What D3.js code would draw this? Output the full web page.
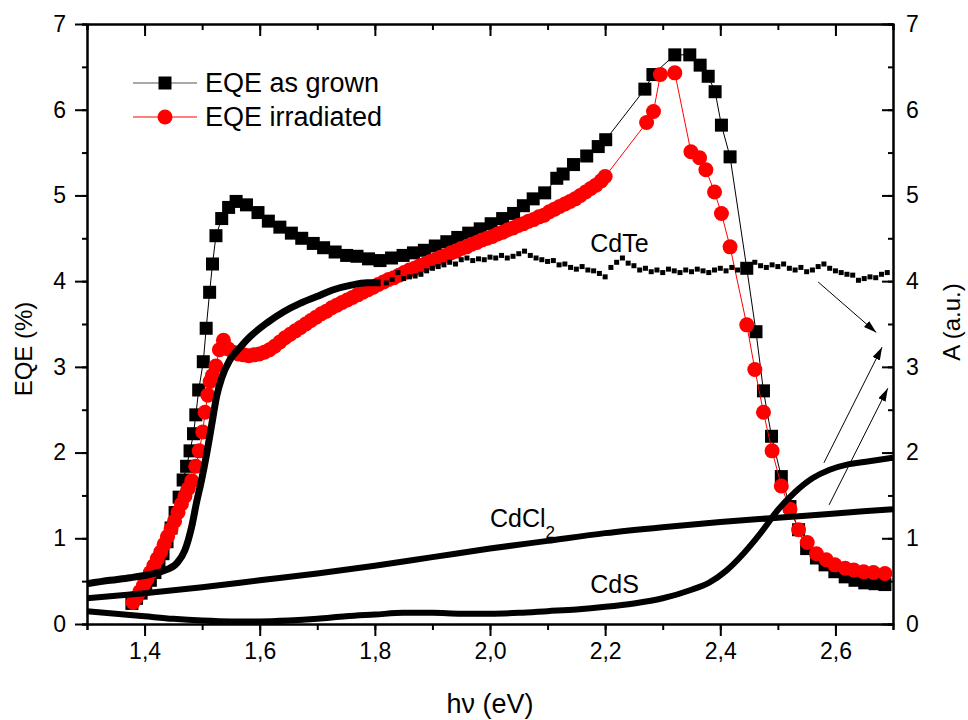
<!DOCTYPE html>
<html>
<head>
<meta charset="utf-8">
<script src="https://cdn.jsdelivr.net/npm/d3@7"></script>
<style>
    body { margin: 0; background: #fff; }
    svg text { font-family: Arial, "Liberation Sans", sans-serif; fill: #000; }
</style>
</head>
<body>
<svg id="chart"></svg>
<script>
// ---------------- data ----------------
// [photon energy eV, EQE %]
const eqeAsGrown = [
    [1.378, 0.24], [1.386, 0.30], [1.394, 0.36], [1.402, 0.43], [1.410, 0.51], [1.418, 0.60],
    [1.425, 0.70], [1.432, 0.82], [1.439, 0.96], [1.446, 1.12], [1.453, 1.30], [1.460, 1.48],
    [1.467, 1.68], [1.473, 1.84], [1.479, 2.02], [1.485, 2.22], [1.489, 2.44], [1.494, 2.73],
    [1.502, 3.06], [1.507, 3.45], [1.513, 3.87], [1.518, 4.20], [1.524, 4.53], [1.534, 4.73],
    [1.546, 4.86], [1.559, 4.93], [1.577, 4.89], [1.597, 4.80], [1.615, 4.70], [1.635, 4.63],
    [1.655, 4.56], [1.673, 4.50], [1.693, 4.44], [1.711, 4.39], [1.731, 4.34], [1.751, 4.30],
    [1.769, 4.29], [1.789, 4.26], [1.809, 4.24], [1.829, 4.27], [1.849, 4.30], [1.867, 4.33],
    [1.886, 4.36], [1.905, 4.41], [1.925, 4.46], [1.944, 4.51], [1.963, 4.56], [1.983, 4.61],
    [2.002, 4.67], [2.022, 4.73], [2.041, 4.79], [2.058, 4.88], [2.075, 4.96], [2.095, 5.03],
    [2.116, 5.20], [2.127, 5.25], [2.145, 5.36], [2.168, 5.46], [2.188, 5.57], [2.201, 5.65],
    [2.269, 6.24], [2.283, 6.41], [2.321, 6.64], [2.347, 6.64], [2.365, 6.52], [2.379, 6.39],
    [2.391, 6.21], [2.402, 5.82], [2.417, 5.45], [2.446, 4.15], [2.462, 3.41], [2.475, 2.72],
    [2.489, 2.19], [2.506, 1.72], [2.521, 1.37], [2.536, 1.10], [2.550, 0.88], [2.567, 0.77],
    [2.582, 0.69], [2.599, 0.61], [2.617, 0.55], [2.634, 0.51], [2.651, 0.48], [2.669, 0.47],
    [2.686, 0.46]
];

const eqeIrradiated = [
    [1.380, 0.25], [1.386, 0.31], [1.392, 0.38], [1.398, 0.45], [1.404, 0.52], [1.410, 0.60],
    [1.416, 0.68], [1.422, 0.76], [1.428, 0.84], [1.434, 0.93], [1.440, 1.02], [1.446, 1.11],
    [1.452, 1.20], [1.458, 1.30], [1.464, 1.40], [1.470, 1.49], [1.476, 1.58], [1.482, 1.67],
    [1.489, 1.84], [1.495, 2.02], [1.501, 2.24], [1.505, 2.47], [1.510, 2.67], [1.514, 2.83],
    [1.518, 2.90], [1.524, 3.01], [1.530, 3.20], [1.537, 3.31], [1.545, 3.21], [1.554, 3.17],
    [1.563, 3.15], [1.572, 3.14], [1.581, 3.13], [1.590, 3.14], [1.599, 3.15], [1.608, 3.17],
    [1.617, 3.20], [1.626, 3.24], [1.635, 3.29], [1.644, 3.34], [1.653, 3.38], [1.662, 3.42],
    [1.671, 3.46], [1.680, 3.50], [1.689, 3.54], [1.698, 3.58], [1.707, 3.62], [1.716, 3.65],
    [1.725, 3.69], [1.734, 3.72], [1.743, 3.75], [1.752, 3.78], [1.761, 3.81], [1.770, 3.84],
    [1.779, 3.87], [1.788, 3.90], [1.797, 3.93], [1.806, 3.96], [1.815, 3.99], [1.824, 4.02],
    [1.833, 4.04], [1.842, 4.07], [1.851, 4.10], [1.860, 4.13], [1.869, 4.15], [1.878, 4.18],
    [1.887, 4.20], [1.896, 4.23], [1.905, 4.25], [1.914, 4.28], [1.923, 4.30], [1.932, 4.33],
    [1.941, 4.35], [1.950, 4.38], [1.959, 4.40], [1.968, 4.43], [1.977, 4.45], [1.986, 4.48],
    [1.995, 4.50], [2.004, 4.52], [2.013, 4.55], [2.022, 4.57], [2.031, 4.60], [2.040, 4.62],
    [2.049, 4.65], [2.058, 4.67], [2.067, 4.70], [2.076, 4.72], [2.085, 4.75], [2.094, 4.77],
    [2.103, 4.81], [2.112, 4.84], [2.121, 4.87], [2.130, 4.90], [2.139, 4.93], [2.148, 4.96],
    [2.157, 5.00], [2.166, 5.04], [2.175, 5.08], [2.184, 5.12], [2.193, 5.17], [2.200, 5.22],
    [2.272, 5.85], [2.284, 5.98], [2.296, 6.41], [2.321, 6.43], [2.349, 5.51], [2.364, 5.44],
    [2.375, 5.30], [2.390, 5.04], [2.402, 4.79], [2.417, 4.40], [2.446, 3.49], [2.460, 2.97],
    [2.475, 2.47], [2.490, 2.02], [2.506, 1.61], [2.521, 1.34], [2.536, 1.10], [2.551, 0.95],
    [2.567, 0.82], [2.584, 0.75], [2.599, 0.69], [2.617, 0.65], [2.632, 0.63], [2.649, 0.61],
    [2.666, 0.60], [2.686, 0.59]
];

// [photon energy eV, absorbance a.u.]
const cdteEdge = [
    [1.300, 0.47], [1.340, 0.51], [1.375, 0.54], [1.410, 0.58], [1.433, 0.62], [1.456, 0.71],
    [1.470, 0.86], [1.482, 1.14], [1.490, 1.41], [1.499, 1.68], [1.508, 1.99], [1.517, 2.34],
    [1.525, 2.65], [1.534, 2.87], [1.548, 3.08], [1.565, 3.22], [1.583, 3.35], [1.612, 3.51],
    [1.641, 3.64], [1.670, 3.74], [1.699, 3.82], [1.728, 3.90], [1.757, 3.95], [1.786, 3.98],
    [1.810, 3.98]
];

const cdtePlateau = [
    [1.82, 3.98], [1.83, 4.02], [1.84, 4.10], [1.85, 4.03], [1.86, 4.05], [1.87, 4.06],
    [1.88, 4.08], [1.89, 4.12], [1.90, 4.15], [1.91, 4.17], [1.92, 4.19], [1.93, 4.22],
    [1.94, 4.20], [1.95, 4.25], [1.96, 4.27], [1.97, 4.24], [1.98, 4.26], [1.99, 4.25],
    [2.00, 4.28], [2.01, 4.27], [2.02, 4.30], [2.03, 4.27], [2.04, 4.29], [2.05, 4.32],
    [2.06, 4.35], [2.07, 4.30], [2.08, 4.27], [2.09, 4.25], [2.10, 4.23], [2.11, 4.24],
    [2.12, 4.19], [2.13, 4.20], [2.14, 4.16], [2.15, 4.14], [2.16, 4.17], [2.17, 4.13],
    [2.18, 4.12], [2.19, 4.09], [2.20, 4.05], [2.21, 4.16], [2.22, 4.22], [2.23, 4.27],
    [2.24, 4.21], [2.25, 4.18], [2.26, 4.13], [2.27, 4.15], [2.28, 4.11], [2.29, 4.13],
    [2.30, 4.10], [2.31, 4.14], [2.32, 4.12], [2.33, 4.10], [2.34, 4.13], [2.35, 4.11],
    [2.36, 4.14], [2.37, 4.12], [2.38, 4.10], [2.39, 4.13], [2.40, 4.15], [2.41, 4.12],
    [2.42, 4.16], [2.43, 4.13], [2.44, 4.17], [2.45, 4.19], [2.46, 4.22], [2.47, 4.18],
    [2.48, 4.16], [2.49, 4.19], [2.50, 4.17], [2.51, 4.20], [2.52, 4.15], [2.53, 4.13],
    [2.54, 4.16], [2.55, 4.11], [2.56, 4.13], [2.57, 4.17], [2.58, 4.20], [2.59, 4.15],
    [2.60, 4.12], [2.61, 4.10], [2.62, 4.08], [2.63, 4.07], [2.64, 4.01], [2.65, 4.03],
    [2.66, 4.05], [2.67, 4.04], [2.68, 4.08], [2.69, 4.10]
];

const cdcl2 = [
    [1.30, 0.30], [1.40, 0.36], [1.50, 0.43], [1.60, 0.51], [1.70, 0.59], [1.80, 0.68],
    [1.90, 0.78], [2.00, 0.88], [2.10, 0.97], [2.20, 1.06], [2.30, 1.13], [2.40, 1.19],
    [2.50, 1.24], [2.60, 1.29], [2.70, 1.34]
];

const cds = [
    [1.30, 0.15], [1.35, 0.12], [1.40, 0.09], [1.45, 0.06], [1.50, 0.04], [1.55, 0.03],
    [1.60, 0.03], [1.65, 0.04], [1.70, 0.06], [1.75, 0.09], [1.80, 0.11], [1.85, 0.13],
    [1.90, 0.13], [1.95, 0.12], [2.00, 0.12], [2.05, 0.13], [2.10, 0.15], [2.15, 0.17],
    [2.20, 0.20], [2.25, 0.24], [2.30, 0.30], [2.35, 0.40], [2.38, 0.48], [2.41, 0.62],
    [2.44, 0.82], [2.47, 1.06], [2.50, 1.33], [2.53, 1.54], [2.56, 1.70], [2.59, 1.80],
    [2.62, 1.86], [2.65, 1.89], [2.70, 1.94]
];

const xTicks = [1.4, 1.6, 1.8, 2.0, 2.2, 2.4, 2.6];
const yTicks = [0, 1, 2, 3, 4, 5, 6, 7];
const legendNames = ["EQE as grown", "EQE irradiated"];

// curve labels and arrows, in data units of the right (A) axis
const curveLabels = [
    { text: "CdTe", sub: "", x: 2.174, y: 4.34 },
    { text: "CdCl", sub: "2", x: 2.0, y: 1.13 },
    { text: "CdS", sub: "", x: 2.174, y: 0.36 }
];
const arrows = [
    [[2.570, 3.99], [2.671, 3.40]],
    [[2.580, 1.88], [2.681, 3.23]],
    [[2.589, 1.39], [2.691, 2.75]]
];

class SpectraChart {
    margin = {
        top: 24, right: 75, bottom: 96, left: 87
    }

    constructor(svg, width = 806, height = 600) {
        this.svg = svg;
        this.width = width;
        this.height = height;
    }

    initialize() {
        this.svg = d3.select(this.svg)
            .attr("width", this.width + this.margin.left + this.margin.right)
            .attr("height", this.height + this.margin.top + this.margin.bottom);

        this.xScale = d3.scaleLinear().domain([1.3, 2.7]).range([0, this.width]);
        this.yScale = d3.scaleLinear().domain([0, 7]).range([this.height, 0]);
        this.aScale = d3.scaleLinear().domain([0, 7]).range([this.height, 0]);

        let defs = this.svg.append("defs");
        defs.append("marker")
            .attr("id", "arrowhead")
            .attr("viewBox", "0 0 13 8")
            .attr("refX", 13).attr("refY", 4)
            .attr("markerUnits", "userSpaceOnUse")
            .attr("markerWidth", 13).attr("markerHeight", 8)
            .attr("orient", "auto")
            .append("path")
            .attr("d", "M0,0L13,4L0,8z")
            .attr("fill", "#000");

        this.container = this.svg.append("g")
            .attr("transform", `translate(${this.margin.left}, ${this.margin.top})`);
    }

    styleAxis(g) {
        g.selectAll("path, line").attr("stroke", "#000").attr("stroke-width", 2);
        g.selectAll("text").style("font-size", "23px").attr("fill", "#000");
    }

    drawAxes() {
        let c = this.container;
        let fmt = d => d3.format(".1f")(d).replace(".", ",");

        // minor ticks first, majors drawn over them
        c.append("g").attr("transform", `translate(0, ${this.height})`)
            .call(d3.axisBottom(this.xScale).tickValues(this.xScale.ticks(14)).tickSize(6).tickFormat(""))
            .call(g => this.styleAxis(g));
        c.append("g").attr("transform", `translate(0, ${this.height})`)
            .call(d3.axisBottom(this.xScale).tickValues(xTicks).tickSize(12).tickSizeOuter(0).tickPadding(7).tickFormat(fmt))
            .call(g => this.styleAxis(g));

        c.append("g")
            .call(d3.axisTop(this.xScale).tickValues(this.xScale.ticks(14)).tickSize(-6).tickFormat(""))
            .call(g => this.styleAxis(g));
        c.append("g")
            .call(d3.axisTop(this.xScale).tickValues(xTicks).tickSize(-12).tickSizeOuter(0).tickFormat(""))
            .call(g => this.styleAxis(g));

        c.append("g")
            .call(d3.axisLeft(this.yScale).tickValues(this.yScale.ticks(14)).tickSize(5).tickFormat(""))
            .call(g => this.styleAxis(g));
        c.append("g")
            .call(d3.axisLeft(this.yScale).tickValues(yTicks).tickSize(12).tickSizeOuter(0).tickPadding(9).tickFormat(d3.format("d")))
            .call(g => this.styleAxis(g));

        c.append("g").attr("transform", `translate(${this.width}, 0)`)
            .call(d3.axisRight(this.aScale).tickValues(this.aScale.ticks(14)).tickSize(-5).tickFormat(""))
            .call(g => this.styleAxis(g));
        c.append("g").attr("transform", `translate(${this.width}, 0)`)
            .call(d3.axisRight(this.aScale).tickValues(yTicks).tickSize(-11).tickSizeOuter(0).tickPadding(13).tickFormat(d3.format("d")))
            .call(g => this.styleAxis(g));

        // axis titles
        this.svg.append("text")
            .attr("transform", "translate(32, 349) rotate(-90)")
            .attr("text-anchor", "middle")
            .style("font-size", "24px")
            .text("EQE (%)");

        this.svg.append("text")
            .attr("transform", "translate(960, 322) rotate(-90)")
            .attr("text-anchor", "middle")
            .style("font-size", "24px")
            .text("A (a.u.)");

        this.svg.append("text")
            .attr("x", this.margin.left + this.width / 2)
            .attr("y", 713)
            .attr("text-anchor", "middle")
            .style("font-size", "27px")
            .text("h\u03bd (eV)");
    }

    drawSeries() {
        let c = this.container;
        let lineEqe = d3.line().x(d => this.xScale(d[0])).y(d => this.yScale(d[1]));
        let lineA = d3.line().curve(d3.curveMonotoneX).x(d => this.xScale(d[0])).y(d => this.aScale(d[1]));

        // EQE as grown
        c.append("path").datum(eqeAsGrown)
            .attr("d", lineEqe).attr("fill", "none").attr("stroke", "#000").attr("stroke-width", 1);
        c.append("g").selectAll("rect").data(eqeAsGrown).join("rect")
            .attr("x", d => this.xScale(d[0]) - 6.5)
            .attr("y", d => this.yScale(d[1]) - 6.5)
            .attr("width", 13).attr("height", 13)
            .attr("fill", "#000");

        // EQE irradiated
        c.append("path").datum(eqeIrradiated)
            .attr("d", lineEqe).attr("fill", "none").attr("stroke", "#ff0000").attr("stroke-width", 1);
        c.append("g").selectAll("circle").data(eqeIrradiated).join("circle")
            .attr("cx", d => this.xScale(d[0]))
            .attr("cy", d => this.yScale(d[1]))
            .attr("r", 7.5)
            .attr("fill", "#ff0000");

        // absorbance curves (right axis)
        c.append("path").datum(cdcl2)
            .attr("d", lineA).attr("fill", "none").attr("stroke", "#000").attr("stroke-width", 6);
        c.append("path").datum(cds)
            .attr("d", lineA).attr("fill", "none").attr("stroke", "#000").attr("stroke-width", 6);
        c.append("path").datum(cdteEdge)
            .attr("d", lineA).attr("fill", "none").attr("stroke", "#000").attr("stroke-width", 7);
        c.append("g").selectAll("rect").data(cdtePlateau).join("rect")
            .attr("x", d => this.xScale(d[0]) - 2.5)
            .attr("y", d => this.aScale(d[1]) - 2.5)
            .attr("width", 5).attr("height", 5)
            .attr("fill", "#000");
    }

    drawNotes() {
        let c = this.container;
        let labels = c.append("g").selectAll("text").data(curveLabels).join("text")
            .attr("x", d => this.xScale(d.x))
            .attr("y", d => this.aScale(d.y))
            .style("font-size", "25px")
            .text(d => d.text);
        labels.filter(d => d.sub).append("tspan")
            .attr("dy", 11)
            .style("font-size", "17px")
            .text(d => d.sub);

        c.append("g").selectAll("line").data(arrows).join("line")
            .attr("x1", d => this.xScale(d[0][0])).attr("y1", d => this.aScale(d[0][1]))
            .attr("x2", d => this.xScale(d[1][0])).attr("y2", d => this.aScale(d[1][1]))
            .attr("stroke", "#000").attr("stroke-width", 1)
            .attr("marker-end", "url(#arrowhead)");
    }

    drawLegend() {
        let legend = this.svg.append("g").attr("transform", "translate(133, 83)");
        let rowGap = 34;
        legendNames.forEach((name, i) => {
            let row = legend.append("g").attr("transform", `translate(0, ${i * rowGap})`);
            let color = i === 0 ? "#000" : "#ff0000";
            row.append("line")
                .attr("x1", 0).attr("x2", 64)
                .attr("stroke", i === 0 ? "#555" : "#ff0000").attr("stroke-width", 1.2);
            if (i === 0) {
                row.append("rect").attr("x", 25.5).attr("y", -6.5).attr("width", 13).attr("height", 13).attr("fill", color);
            } else {
                row.append("circle").attr("cx", 32).attr("r", 7.5).attr("fill", color);
            }
            row.append("text")
                .attr("x", 72).attr("y", 9)
                .style("font-size", "27px")
                .text(name);
        });
    }
}

let chart = new SpectraChart(document.getElementById("chart"));
chart.initialize();
chart.drawAxes();
chart.drawSeries();
chart.drawNotes();
chart.drawLegend();
</script>
</body>
</html>
